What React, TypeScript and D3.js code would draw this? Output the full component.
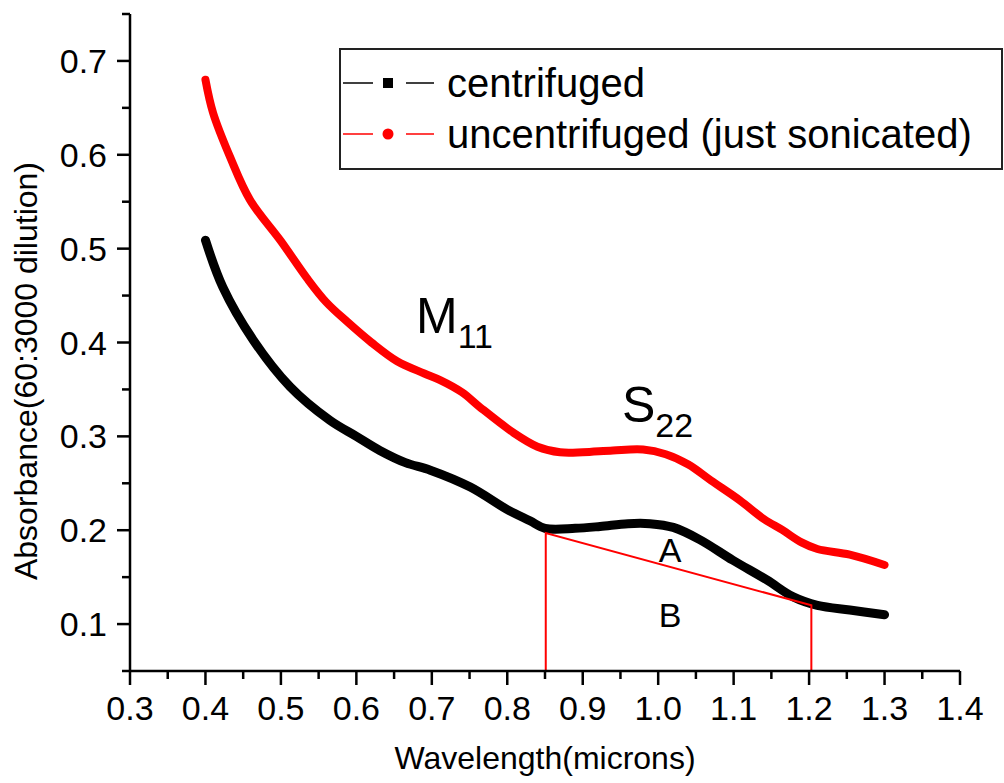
import React from 'react';
import * as d3 from 'd3';

// values
const redX = [0.4, 0.41, 0.433, 0.459, 0.5, 0.535, 0.56, 0.588, 0.62, 0.654, 0.69, 0.711, 0.74, 0.764, 0.808, 0.84, 0.87, 0.9, 0.94, 0.98, 1.01, 1.04, 1.07, 1.108, 1.14, 1.165, 1.19, 1.211, 1.254, 1.3];
const redY = [0.68, 0.645, 0.597, 0.552, 0.508, 0.468, 0.443, 0.422, 0.4, 0.38, 0.367, 0.36, 0.347, 0.331, 0.304, 0.289, 0.283, 0.283, 0.285, 0.286, 0.281, 0.27, 0.253, 0.232, 0.212, 0.2, 0.187, 0.18, 0.174, 0.163];

const blackX = [0.4, 0.423, 0.463, 0.512, 0.565, 0.6, 0.631, 0.665, 0.698, 0.751, 0.8, 0.83, 0.85, 0.89, 0.923, 0.96, 0.989, 1.02, 1.055, 1.099, 1.144, 1.179, 1.211, 1.254, 1.3];
const blackY = [0.509, 0.459, 0.403, 0.353, 0.317, 0.3, 0.285, 0.272, 0.264, 0.246, 0.222, 0.21, 0.202, 0.202, 0.204, 0.207, 0.207, 0.203, 0.19, 0.168, 0.147, 0.129, 0.12, 0.115, 0.11];

// baseline construction (area A / B)
const baseX = [0.851, 0.851, 1.203, 1.203];
const baseY = [0.05, 0.197, 0.12, 0.05];

const xTicks = [0.3, 0.4, 0.5, 0.6, 0.7, 0.8, 0.9, 1.0, 1.1, 1.2, 1.3, 1.4];
const yTicks = [0.1, 0.2, 0.3, 0.4, 0.5, 0.6, 0.7];

const seriesNames = ['centrifuged', 'uncentrifuged (just sonicated)'];

const FONT = '"Liberation Sans", Arial, sans-serif';

export default function App() {
  const W = 1004;
  const H = 783;
  const x = d3.scaleLinear().domain([0.3, 1.4]).range([130, 960]);
  const y = d3.scaleLinear().domain([0.05, 0.75]).range([671, 14]);

  const line = d3
    .line<[number, number]>()
    .x((d) => x(d[0]))
    .y((d) => y(d[1]))
    .curve(d3.curveCatmullRom);

  const red = redX.map((v, i) => [v, redY[i]] as [number, number]);
  const black = blackX.map((v, i) => [v, blackY[i]] as [number, number]);
  const base = baseX.map((v, i) => [v, baseY[i]] as [number, number]);
  const baseLine = d3
    .line<[number, number]>()
    .x((d) => x(d[0]))
    .y((d) => y(d[1]));

  const fmt = d3.format('.1f');
  const xMinor = xTicks.slice(0, -1).map((t) => t + 0.05);
  const yMinor = [0.05, ...yTicks.map((t) => t + 0.05)];

  return (
    <div style={{ position: 'absolute', left: 0, top: 0 }}>
      <svg width={W} height={H} style={{ display: 'block', background: '#fff' }} fontFamily={FONT}>
        {/* curves */}
        <path d={line(red) || ''} fill="none" stroke="#ff0000" strokeWidth={8} strokeLinecap="round" strokeLinejoin="round" />
        <path d={line(black) || ''} fill="none" stroke="#000" strokeWidth={9} strokeLinecap="round" strokeLinejoin="round" />
        <path d={baseLine(base) || ''} fill="none" stroke="#ff0000" strokeWidth={2} />

        {/* axes */}
        <g stroke="#000" strokeWidth={2.5}>
          <line x1={x(0.3)} x2={x(0.3)} y1={y(0.75)} y2={y(0.05)} />
          <line x1={x(0.3)} x2={x(1.4)} y1={y(0.05)} y2={y(0.05)} />
          {xTicks.map((t) => (
            <line key={'xt' + t} x1={x(t)} x2={x(t)} y1={y(0.05)} y2={y(0.05) + 14} />
          ))}
          {xMinor.map((t) => (
            <line key={'xm' + t} x1={x(t)} x2={x(t)} y1={y(0.05)} y2={y(0.05) + 8} />
          ))}
          {yTicks.map((t) => (
            <line key={'yt' + t} x1={x(0.3) - 13} x2={x(0.3)} y1={y(t)} y2={y(t)} />
          ))}
          {yMinor.map((t) => (
            <line key={'ym' + t} x1={x(0.3) - 8} x2={x(0.3)} y1={y(t)} y2={y(t)} />
          ))}
        </g>
        <g fontSize={34} fill="#000">
          {xTicks.map((t) => (
            <text key={'xl' + t} x={x(t)} y={720} textAnchor="middle">
              {fmt(t)}
            </text>
          ))}
          {yTicks.map((t) => (
            <text key={'yl' + t} x={107} y={y(t) + 12} textAnchor="end">
              {fmt(t)}
            </text>
          ))}
        </g>

        {/* axis titles */}
        <text x={(x(0.3) + x(1.4)) / 2} y={769} textAnchor="middle" fontSize={32}>
          Wavelength(microns)
        </text>
        <text transform="translate(37,371) rotate(-90)" textAnchor="middle" fontSize={32}>
          Absorbance(60:3000 dilution)
        </text>

        {/* peak labels */}
        <text x={416} y={333} fontSize={50}>
          M<tspan fontSize={34} dy={15}>11</tspan>
        </text>
        <text x={622} y={422} fontSize={50}>
          S<tspan fontSize={34} dy={15}>22</tspan>
        </text>
        <text x={670} y={562} fontSize={34} textAnchor="middle">A</text>
        <text x={670} y={627} fontSize={34} textAnchor="middle">B</text>

        {/* legend */}
        <rect x={340} y={49} width={662} height={120} fill="#fff" stroke="#222" strokeWidth={2} />
        <g>
          <line x1={343} x2={373} y1={83} y2={83} stroke="#000" strokeWidth={1.5} />
          <line x1={406} x2={434} y1={83} y2={83} stroke="#000" strokeWidth={1.5} />
          <rect x={383} y={78} width={10} height={10} fill="#000" />
          <text x={447} y={97} fontSize={40}>{seriesNames[0]}</text>
          <line x1={343} x2={373} y1={134} y2={134} stroke="#ff0000" strokeWidth={1.5} />
          <line x1={406} x2={434} y1={134} y2={134} stroke="#ff0000" strokeWidth={1.5} />
          <circle cx={388} cy={134} r={5.5} fill="#ff0000" />
          <text x={447} y={148} fontSize={40}>{seriesNames[1]}</text>
        </g>
      </svg>
    </div>
  );
}
